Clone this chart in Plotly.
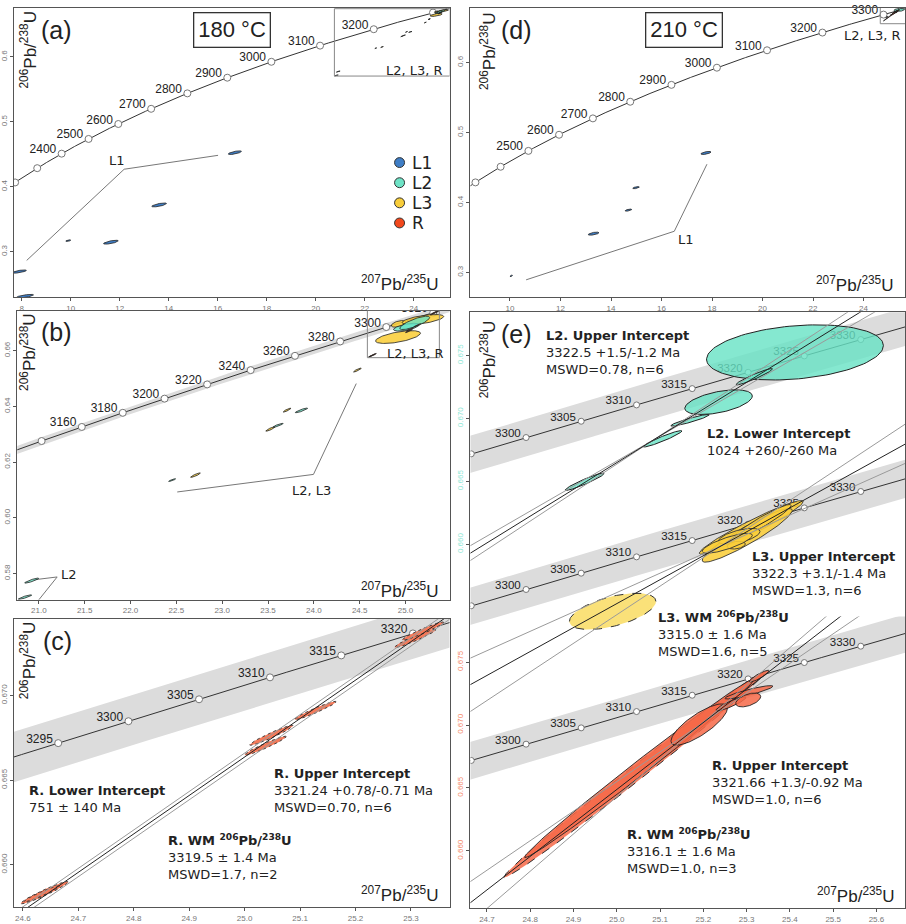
import numpy as np
import plotly.graph_objects as go

W, H = 906, 924

# ---------------- constants ----------------
LAMBDA_238 = 1.55125e-4   # 1/Ma
LAMBDA_235 = 9.8485e-4    # 1/Ma
LAMBDA_235_REL = 0.00175  # relative decay-constant uncertainty (concordia band)

# ---------------- data ----------------
# 180 °C, L1 spots: 207Pb/235U, half-width, 206Pb/238U, half-width, rho
a_L1_x = [16.70, 13.61, 11.64, 9.90, 7.89, 8.13]
a_L1_ex = [0.27, 0.30, 0.30, 0.10, 0.30, 0.35]
a_L1_y = [0.4526, 0.3721, 0.3147, 0.3171, 0.2694, 0.2315]
a_L1_ey = [0.0028, 0.0030, 0.0030, 0.0012, 0.0025, 0.0028]
a_L1_rho = [0.7, 0.7, 0.7, 0.6, 0.7, 0.7]

# 180 °C, L2 spots
b_L2_x = [20.849, 20.922, 22.454, 23.610, 23.865, 25.009, 25.100]
b_L2_ex = [0.073, 0.076, 0.038, 0.055, 0.067, 0.140, 0.163]
b_L2_y = [0.57158, 0.57749, 0.61356, 0.63323, 0.63857, 0.66845, 0.66998]
b_L2_ey = [0.0008, 0.0009, 0.0005, 0.0007, 0.00083, 0.0014, 0.0024]
b_L2_rho = [0.9, 0.9, 0.9, 0.9, 0.9, 0.6, 0.8]

# 180 °C, L3 spots
b_L3_x = [22.709, 23.527, 23.708, 24.475, 24.918, 24.925, 25.190]
b_L3_ex = [0.053, 0.051, 0.042, 0.042, 0.245, 0.080, 0.227]
b_L3_y = [0.61534, 0.63191, 0.63867, 0.65305, 0.66489, 0.66962, 0.67119]
b_L3_ey = [0.0008, 0.0008, 0.0007, 0.0007, 0.0023, 0.0012, 0.0018]
b_L3_rho = [0.9, 0.9, 0.9, 0.9, 0.6, 0.5, 0.6]

# 180 °C, R spots
c_R_x = [24.6389, 24.6339, 25.0482, 25.0374, 25.1275, 25.3077, 25.3214]
c_R_ex = [0.0429, 0.0320, 0.0391, 0.0375, 0.0375, 0.0375, 0.0375]
c_R_y = [0.65835, 0.65828, 0.66765, 0.66703, 0.66911, 0.67337, 0.67380]
c_R_ey = [0.00066, 0.00047, 0.00059, 0.00056, 0.00054, 0.00054, 0.00054]
c_R_rho = [0.96, 0.96, 0.96, 0.96, 0.96, 0.96, 0.96]
# R 180 °C discordia: upper, +err, -err, lower, err (Ma)
c_R_disc = [3321.24, 0.78, 0.71, 751.0, 140.0]

# 210 °C, L1 spots
d_L1_x = [17.76, 14.99, 14.69, 13.31, 10.05]
d_L1_ex = [0.20, 0.13, 0.13, 0.21, 0.05]
d_L1_y = [0.4708, 0.4212, 0.3891, 0.3555, 0.2952]
d_L1_ey = [0.0022, 0.0015, 0.0015, 0.0022, 0.0010]
d_L1_rho = [0.6, 0.6, 0.6, 0.6, 0.6]

# 210 °C, L2 spots
e_L2_x = [25.4118, 25.3176, 25.2352, 25.1692, 25.1059, 24.9259]
e_L2_ex = [0.2043, 0.0422, 0.0780, 0.0443, 0.0446, 0.0450]
e_L2_y = [0.67524, 0.67331, 0.67129, 0.66985, 0.66838, 0.66497]
e_L2_ey = [0.00219, 0.00065, 0.00098, 0.00046, 0.00065, 0.00069]
e_L2_rho = [0.25, 0.95, 0.5, 0.93, 0.95, 0.95]
e_L2_disc = [3322.5, 1.5, 1.2, 1024.0, 260.0]

# 210 °C, L3 spots
e_L3_x = [25.3107, 25.3014, 25.3337, 25.2830, 25.2760, 25.2553]
e_L3_ex = [0.120, 0.104, 0.069, 0.048, 0.021, 0.058]
e_L3_y = [0.67341, 0.67278, 0.67381, 0.67270, 0.67200, 0.67215]
e_L3_ey = [0.00213, 0.00213, 0.00142, 0.00063, 0.00031, 0.00079]
e_L3_rho = [0.96, 0.93, 0.95, 0.6, 0.3, 0.8]
e_L3_wm = [24.9905, 0.100, 0.66674, 0.00144, 0.55]
e_L3_disc = [3322.3, 3.1, 1.4, 1450.0, 700.0]

# 210 °C, R spots
e_R_x = [25.0521, 25.1906, 25.2638, 25.3054, 25.3037, 25.3291]
e_R_ex = [0.265, 0.0653, 0.0346, 0.0554, 0.0289, 0.0231]
e_R_y = [0.66656, 0.67004, 0.67168, 0.67260, 0.67199, 0.67388]
e_R_ey = [0.00709, 0.00164, 0.00055, 0.00053, 0.00055, 0.00047]
e_R_rho = [0.995, 0.8, 0.9, 0.9, 0.5, 0.9]
e_R_wm = [25.0399, 0.301, 0.66603, 0.00815, 0.996]
e_R_disc = [3321.66, 1.3, 0.92, 0.0, 600.0]

# concordia age marks (Ma)
a_ages = list(range(2200, 3400, 100)); a_lab = list(range(2400, 3300, 100))
b_ages = list(range(3140, 3340, 20)); b_lab = list(range(3160, 3340, 20))
c_ages = list(range(3290, 3330, 5)); c_lab = list(range(3295, 3325, 5))
d_ages = list(range(2300, 3400, 100)); d_lab = list(range(2500, 3400, 100))
e_ages = list(range(3290, 3345, 5)); e_lab = list(range(3300, 3335, 5))

legend_names = ['L1', 'L2', 'L3', 'R']

# ---------------- colours ----------------
BLUE = '#3f7ec6'
TEAL = 'rgba(102,226,196,0.80)'
TEAL_S = '#6ee3c6'
YEL = 'rgba(250,206,58,0.88)'
YEL_S = '#f8cd3a'
YEL_WM = 'rgba(250,222,110,0.92)'
RED = 'rgba(246,105,72,0.85)'
RED_S = '#f2481c'
RED_C = '#f47a5a'
BAND = '#dcdcdc'
legend_colors = [BLUE, TEAL_S, YEL_S, RED_S]

# ---------------- axis ranges / pixel geometry ----------------
A_X, A_Y = [7.684, 25.464], [0.22964, 0.67558]
B_X, B_Y = [20.765, 25.48], [0.57062, 0.67439]
C_X, C_Y = [24.584, 25.3695], [0.6575, 0.67454]
D_X, D_Y = [8.436, 25.641], [0.2644, 0.678]
E_X = [24.662, 25.666]
E_TEAL_Y = [0.63110, 0.67843]
E_YEL_Y = [0.65782, 0.68223]
E_RED_Y = [0.65546, 0.67861]

# pixel boxes (left, right, top, bottom)
BOX = {
    'a': (14, 450, 8, 300), 'b': (17.3, 450, 313.3, 605), 'c': (14, 450, 624, 915),
    'd': (471, 906, 8, 300), 'e': (471, 906, 315, 916),
    'e_yel': (471, 906, 420, 730), 'e_red': (471, 906, 622, 916),
}

fig = go.Figure()


def conc_xy(t, k=1.0):
    t = np.asarray(t, float)
    return np.exp(LAMBDA_235 * k * t) - 1.0, np.exp(LAMBDA_238 * t) - 1.0


def ellipse_xy(cx, ex, cy, ey, rho, n=120):
    th = np.linspace(0, 2 * np.pi, n)
    x = cx + ex * np.cos(th)
    y = cy + ey * (rho * np.cos(th) + np.sqrt(1 - rho ** 2) * np.sin(th))
    return x, y


def add_ellipses(xs, exs, ys, eys, rhos, xa, ya, fill, line='#222', lw=0.8, dash='solid'):
    for cx, ex, cy, ey, r in zip(xs, exs, ys, eys, rhos):
        x, y = ellipse_xy(cx, ex, cy, ey, r)
        fig.add_trace(go.Scatter(x=x, y=y, mode='lines', fill='toself', fillcolor=fill,
                                 line=dict(color=line, width=lw, dash=dash),
                                 xaxis=xa, yaxis=ya, showlegend=False, hoverinfo='skip'))


def add_concordia(xa, ya, yr, box, t0, t1, ages, labels, band=True, msize=6, fsize=11.5,
                  clip_labels=True):
    t = np.linspace(t0, t1, 500)
    if band:
        xl, yl = conc_xy(t, 1 - LAMBDA_235_REL)
        xh, yh = conc_xy(t, 1 + LAMBDA_235_REL)
        fig.add_trace(go.Scatter(x=np.concatenate([xl, xh[::-1]]), y=np.concatenate([yl, yh[::-1]]),
                                 mode='lines', fill='toself', fillcolor=BAND, line=dict(width=0),
                                 xaxis=xa, yaxis=ya, showlegend=False, hoverinfo='skip'))
    x, y = conc_xy(t)
    fig.add_trace(go.Scatter(x=x, y=y, mode='lines', line=dict(color='#333', width=1),
                             xaxis=xa, yaxis=ya, showlegend=False, hoverinfo='skip'))
    mx, my = conc_xy(ages)
    # labels sit left of each mark, raised by ~3 px
    dy_px = (yr[1] - yr[0]) / (box[3] - box[2])
    txt = [str(a) if a in labels else '' for a in ages]
    lx = [v for v, s in zip(mx, txt) if s]
    ly = [v + 3.5 * dy_px for v, s in zip(my, txt) if s]
    lt = [s for s in txt if s]
    fig.add_trace(go.Scatter(x=lx, y=ly, mode='markers+text', text=lt,
                             textposition='middle left', cliponaxis=clip_labels,
                             textfont=dict(family='Liberation Sans, Arial', size=fsize, color='#222'),
                             marker=dict(size=7, color='rgba(0,0,0,0)', line=dict(width=0)),
                             xaxis=xa, yaxis=ya, showlegend=False, hoverinfo='skip'))
    fig.add_trace(go.Scatter(x=mx, y=my, mode='markers',
                             marker=dict(size=msize, color='white', line=dict(color='#777', width=1)),
                             xaxis=xa, yaxis=ya, showlegend=False, hoverinfo='skip'))


def add_discordia(xa, ya, disc, xr, mode='pivot'):
    tU, eUp, eUm, tL, eL = disc

    def line(tu, tl, slope=None):
        x1, y1 = conc_xy(tu)
        if slope is None:
            x2, y2 = conc_xy(tl)
            slope = (y1 - y2) / (x1 - x2)
        xs = np.array(xr, float)
        return xs, y1 + slope * (xs - x1), slope

    xc, yc, s = line(tU, tL)
    if mode == 'pivot':
        envs = [line(tU + eUp, tL + eL), line(tU - eUm, tL - eL)]
    else:
        envs = [line(tU + eUp, None, s), line(tU - eUm, None, s)]
    for xe, ye, _ in envs:
        fig.add_trace(go.Scatter(x=xe, y=ye, mode='lines', line=dict(color='#9a9a9a', width=1),
                                 xaxis=xa, yaxis=ya, showlegend=False, hoverinfo='skip'))
    fig.add_trace(go.Scatter(x=xc, y=yc, mode='lines', line=dict(color='#222', width=1),
                             xaxis=xa, yaxis=ya, showlegend=False, hoverinfo='skip'))


def add_path(xa, ya, xs, ys):
    fig.add_trace(go.Scatter(x=xs, y=ys, mode='lines', line=dict(color='#777', width=1),
                             xaxis=xa, yaxis=ya, showlegend=False, hoverinfo='skip'))


# ---------------- panel (a) ----------------
add_concordia('x', 'y', A_Y, BOX['a'], 2100, 3400, a_ages, a_lab, band=False, msize=7, fsize=12)
add_path('x', 'y', [8.202, 12.182, 16.016], [0.2866, 0.4271, 0.4485])
add_ellipses(a_L1_x, a_L1_ex, a_L1_y, a_L1_ey, a_L1_rho, 'x', 'y', BLUE)
add_ellipses(b_L3_x, b_L3_ex, b_L3_y, b_L3_ey, b_L3_rho, 'x', 'y', YEL)
add_ellipses(b_L2_x, b_L2_ex, b_L2_y, b_L2_ey, b_L2_rho, 'x', 'y', TEAL)
add_ellipses(c_R_x, c_R_ex, c_R_y, c_R_ey, c_R_rho, 'x', 'y', RED_C)

# ---------------- panel (b) ----------------
add_concordia('x2', 'y2', B_Y, BOX['b'], 3100, 3340, b_ages, b_lab, band=True, msize=7, fsize=12)
add_path('x2', 'y2', [22.51, 23.996, 24.463], [0.6093, 0.6156, 0.6482])
add_path('x2', 'y2', [20.95, 21.2, 21.0], [0.5778, 0.5788, 0.5706])
add_ellipses(b_L3_x, b_L3_ex, b_L3_y, b_L3_ey, b_L3_rho, 'x2', 'y2', YEL)
add_ellipses(b_L2_x, b_L2_ex, b_L2_y, b_L2_ey, b_L2_rho, 'x2', 'y2', TEAL)
add_ellipses(c_R_x, c_R_ex, c_R_y, c_R_ey, c_R_rho, 'x2', 'y2', RED_C)

# ---------------- panel (c) ----------------
add_concordia('x3', 'y3', C_Y, BOX['c'], 3280, 3340, c_ages, c_lab, band=True, msize=7, fsize=12)
add_ellipses(c_R_x, c_R_ex, c_R_y, c_R_ey, c_R_rho, 'x3', 'y3', RED_C, line='#333', lw=0.9, dash='dot')
add_discordia('x3', 'y3', c_R_disc, [24.5, 25.45], mode='parallel')

# ---------------- panel (d) ----------------
add_concordia('x4', 'y4', D_Y, BOX['d'], 2200, 3400, d_ages, d_lab, band=False, msize=7, fsize=12,
              clip_labels=False)
add_path('x4', 'y4', [10.639, 16.506, 17.799], [0.2895, 0.3589, 0.4547])
add_ellipses(d_L1_x, d_L1_ex, d_L1_y, d_L1_ey, d_L1_rho, 'x4', 'y4', BLUE)
add_ellipses(e_L2_x, e_L2_ex, e_L2_y, e_L2_ey, e_L2_rho, 'x4', 'y4', TEAL)
add_ellipses(e_L3_x, e_L3_ex, e_L3_y, e_L3_ey, e_L3_rho, 'x4', 'y4', YEL)
add_ellipses(e_R_x, e_R_ex, e_R_y, e_R_ey, e_R_rho, 'x4', 'y4', RED)

# ---------------- panel (e) ----------------
EXR = [24.5, 25.8]
# L2 section (teal axis y5)
add_concordia('x5', 'y5', E_TEAL_Y, BOX['e'], 3280, 3345, e_ages, e_lab, band=True, msize=6, fsize=11.5)
add_ellipses(e_L2_x, e_L2_ex, e_L2_y, e_L2_ey, e_L2_rho, 'x5', 'y5', TEAL, line='#222', lw=1)
add_discordia('x5', 'y5', e_L2_disc, EXR)
# L3 section (y6)
add_concordia('x5', 'y6', E_YEL_Y, BOX['e_yel'], 3280, 3345, e_ages, e_lab, band=True, msize=6, fsize=11.5)
add_ellipses([e_L3_wm[0]], [e_L3_wm[1]], [e_L3_wm[2]], [e_L3_wm[3]], [e_L3_wm[4]], 'x5', 'y6',
             YEL_WM, line='#333', lw=1, dash='dash')
add_ellipses(e_L3_x, e_L3_ex, e_L3_y, e_L3_ey, e_L3_rho, 'x5', 'y6', YEL, line='#333', lw=0.9)
add_discordia('x5', 'y6', e_L3_disc, EXR)
# R section (y7)
add_concordia('x5', 'y7', E_RED_Y, BOX['e_red'], 3280, 3345, e_ages, e_lab, band=True, msize=6, fsize=11.5)
add_ellipses([e_R_wm[0]], [e_R_wm[1]], [e_R_wm[2]], [e_R_wm[3]], [e_R_wm[4]], 'x5', 'y7',
             RED, line='#333', lw=1, dash='dash')
add_ellipses(e_R_x, e_R_ex, e_R_y, e_R_ey, e_R_rho, 'x5', 'y7', RED, line='#222', lw=0.9)
add_discordia('x5', 'y7', e_R_disc, EXR)


# ---------------- layout ----------------
def dxd(a, b):
    return [a / W, b / W]


def dyd(top, bot):
    return [1 - bot / H, 1 - top / H]


def P(px, py):
    return px / W, 1 - py / H


tickfont = dict(family='Liberation Sans, Arial', size=8, color='#777')
axcommon = dict(showgrid=False, zeroline=False, showline=True, linecolor='#555', linewidth=1,
                mirror=True, ticks='outside', ticklen=3, tickcolor='#555', tickfont=tickfont)


def xdom(k):
    return dxd(BOX[k][0], BOX[k][1])


def ydom(k):
    return dyd(BOX[k][2], BOX[k][3])


layout = dict(
    width=W, height=H, margin=dict(l=0, r=0, t=0, b=0),
    paper_bgcolor='white', plot_bgcolor='rgba(0,0,0,0)',
    showlegend=False,
    xaxis=dict(domain=xdom('a'), range=A_X, anchor='y', dtick=2, tick0=8, **axcommon),
    yaxis=dict(domain=ydom('a'), range=A_Y, anchor='x', dtick=0.1, tick0=0.3, tickangle=-90,
               tickformat='.1f', **axcommon),
    xaxis2=dict(domain=xdom('b'), range=B_X, anchor='y2', dtick=0.5, tick0=21, tickformat='.1f', **axcommon),
    yaxis2=dict(domain=ydom('b'), range=B_Y, anchor='x2', dtick=0.02, tick0=0.58, tickangle=-90,
                tickformat='.2f', **axcommon),
    xaxis3=dict(domain=xdom('c'), range=C_X, anchor='y3', dtick=0.1, tick0=24.6, tickformat='.1f', **axcommon),
    yaxis3=dict(domain=ydom('c'), range=C_Y, anchor='x3', dtick=0.005, tick0=0.66, tickangle=-90,
                tickformat='.3f', **axcommon),
    xaxis4=dict(domain=xdom('d'), range=D_X, anchor='y4', dtick=2, tick0=10, **axcommon),
    yaxis4=dict(domain=ydom('d'), range=D_Y, anchor='x4', dtick=0.1, tick0=0.3, tickangle=-90,
                tickformat='.1f', **axcommon),
    xaxis5=dict(domain=xdom('e'), range=E_X, anchor='y5', dtick=0.1, tick0=24.7, tickformat='.1f', **axcommon),
    yaxis5=dict(domain=ydom('e'), range=E_TEAL_Y, anchor='x5', tickvals=[0.660, 0.665, 0.670, 0.675],
                tickangle=-90, tickformat='.3f',
                **{**axcommon, 'tickfont': dict(family='Liberation Sans, Arial', size=8, color='#8ee8d6')}),
    yaxis6=dict(domain=ydom('e_yel'), range=E_YEL_Y, anchor='x5', visible=False, showgrid=False),
    yaxis7=dict(domain=ydom('e_red'), range=E_RED_Y, anchor='x5', tickvals=[0.660, 0.665, 0.670, 0.675],
                tickangle=-90, tickformat='.3f', showgrid=False, zeroline=False, showline=False,
                ticks='outside', ticklen=3, tickcolor='#555',
                tickfont=dict(family='Liberation Sans, Arial', size=8, color='#f58a6a')),
)

ann = []


def A(text, px, py, size=13, xanchor='center', yanchor='middle', family='DejaVu Sans', angle=0,
      border=False, color='#222', align='left'):
    x, y = P(px, py)
    d = dict(text=text, x=x, y=y, xref='paper', yref='paper', showarrow=False, xanchor=xanchor,
             yanchor=yanchor, font=dict(family=family, size=size, color=color), textangle=angle, align=align)
    if border:
        d.update(bordercolor='#333', borderwidth=1.3, borderpad=4, bgcolor='white')
    ann.append(d)


LS = 'Liberation Sans, Arial'
for t, px, py in [('(a)', 57, 30), ('(b)', 57, 335), ('(c)', 58, 647), ('(d)', 517, 30), ('(e)', 517, 337)]:
    A(t, px, py, size=25, family=LS)
A('180 °C', 232, 30, size=22, family=LS, border=True)
A('210 °C', 685, 30, size=22, family=LS, border=True)

ytitle = '<sup>206</sup>Pb/<sup>238</sup>U'
xtitle = '<sup>207</sup>Pb/<sup>235</sup>U'
for px, py in [(28, 50), (28, 355), (28, 666), (488, 51), (488, 362)]:
    A(ytitle, px, py, size=17, family=LS, angle=-90)
for px, py in [(441, 285), (441, 595), (441, 902), (897, 286), (898, 903)]:
    A(xtitle, px, py, size=17, family=LS, xanchor='right')

A('L1', 117, 162, size=13)
A('L1', 687, 242, size=13)
A('L2, L3', 312, 495, size=13)
A('L2', 69, 580, size=13)
A('L2, L3, R', 445, 71, size=13, xanchor='right')
A('L2, L3, R', 446, 357, size=13, xanchor='right')
A('L2, L3, R', 904, 36, size=13, xanchor='right')

blocks = [
    ('<b>R. Lower Intercept</b><br>751 ± 140 Ma', 28, 793),
    ('<b>R. Upper Intercept</b><br>3321.24 +0.78/-0.71 Ma<br>MSWD=0.70, n=6', 273, 776),
    ('<b>R. WM <sup>206</sup>Pb/<sup>238</sup>U</b><br>3319.5 ± 1.4 Ma<br>MSWD=1.7, n=2', 167, 842),
    ('<b>L2. Upper Intercept</b><br>3322.5 +1.5/-1.2 Ma<br>MSWD=0.78, n=6', 546, 334),
    ('<b>L2. Lower Intercept</b><br>1024 +260/-260 Ma', 707, 433),
    ('<b>L3. Upper Intercept</b><br>3322.3 +3.1/-1.4 Ma<br>MSWD=1.3, n=6', 752, 557),
    ('<b>L3. WM <sup>206</sup>Pb/<sup>238</sup>U</b><br>3315.0 ± 1.6 Ma<br>MSWD=1.6, n=5', 658, 617),
    ('<b>R. Upper Intercept</b><br>3321.66 +1.3/-0.92 Ma<br>MSWD=1.0, n=6', 712, 768),
    ('<b>R. WM <sup>206</sup>Pb/<sup>238</sup>U</b><br>3316.1 ± 1.6 Ma<br>MSWD=1.0, n=3', 627, 836),
]
for t, px, py in blocks:
    A(t, px - 1, py - 5, size=13, xanchor='left', yanchor='top')

shapes = [
    dict(type='rect', xref='x', yref='y', x0=B_X[0], x1=B_X[1], y0=B_Y[0], y1=B_Y[1],
         line=dict(color='#888', width=1)),
    dict(type='rect', xref='x2', yref='y2', x0=C_X[0], x1=C_X[1], y0=C_Y[0], y1=C_Y[1],
         line=dict(color='#888', width=1)),
    dict(type='rect', xref='x4', yref='y4', x0=E_X[0], x1=E_X[1], y0=E_RED_Y[0], y1=0.70,
         line=dict(color='#888', width=1)),
]

# legend (panel a): circle symbols + names
for i, (name, col) in enumerate(zip(legend_names, legend_colors)):
    cy = 164 + 20.3 * i
    x0, y0 = P(395, cy + 5)
    x1, y1 = P(405, cy - 5)
    shapes.append(dict(type='circle', xref='paper', yref='paper', x0=x0, x1=x1, y0=y0, y1=y1,
                       fillcolor=col, line=dict(color='#333', width=1)))
    A(name, 410, cy, size=17, xanchor='left')

layout['annotations'] = ann
layout['shapes'] = shapes

fig.update_layout(**layout)
fig.write_html('out.html')
